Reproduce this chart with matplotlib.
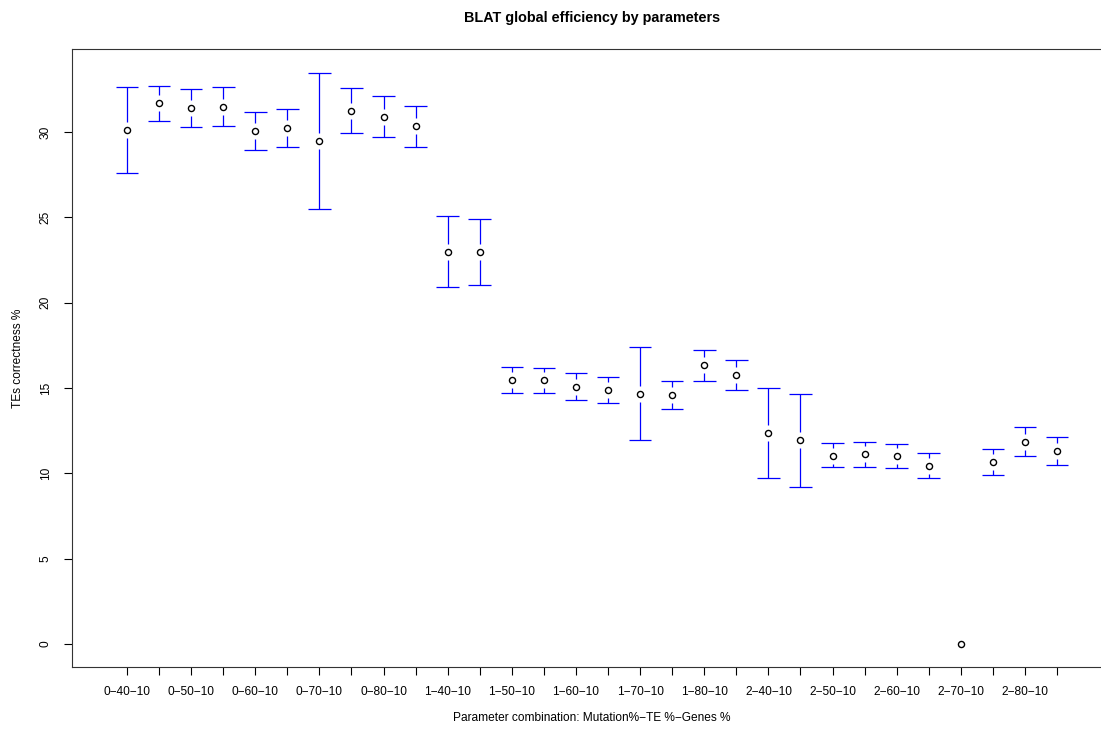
import matplotlib
matplotlib.use("Agg")
import matplotlib.pyplot as plt
import numpy as np

plt.rcParams['font.family'] = ['Liberation Sans', 'DejaVu Sans']

# ---- data ----
tick_labels = ["0-40-10", "0-50-10", "0-60-10", "0-70-10", "0-80-10",
               "1-40-10", "1-50-10", "1-60-10", "1-70-10", "1-80-10",
               "2-40-10", "2-50-10", "2-60-10", "2-70-10", "2-80-10"]

means = [30.10, 31.68, 31.39, 31.48, 30.06, 30.21, 29.47, 31.25, 30.90, 30.33,
         22.99, 22.99, 15.47, 15.45, 15.08, 14.88, 14.67, 14.59, 16.33, 15.78,
         12.38, 11.94, 11.03, 11.11, 11.02, 10.45, 0.00, 10.66, 11.85, 11.33]
upper = [32.62, 32.70, 32.50, 32.62, 31.17, 31.33, 33.48, 32.56, 32.13, 31.54,
         25.10, 24.90, 16.23, 16.19, 15.86, 15.66, 17.42, 15.39, 17.24, 16.66,
         15.02, 14.63, 11.76, 11.84, 11.74, 11.17, 0.00, 11.44, 12.71, 12.15]
lower = [27.62, 30.62, 30.27, 30.33, 28.96, 29.10, 25.47, 29.96, 29.69, 29.14,
         20.90, 21.03, 14.71, 14.69, 14.32, 14.10, 11.94, 13.75, 15.39, 14.88,
         9.75, 9.22, 10.35, 10.39, 10.29, 9.75, 0.00, 9.88, 11.00, 10.49]

title = "BLAT global efficiency by parameters"
xlabel = "Parameter combination: Mutation%-TE %-Genes %"
ylabel = "TEs correctness %"

# ---- figure ----
W, H, DPI = 1101, 729, 100
fig = plt.figure(figsize=(W / DPI, H / DPI), dpi=DPI)
ax_l, ax_r, ax_t, ax_b = 72, 1112, 49, 667
ax = fig.add_axes([ax_l / W, 1 - ax_b / H, (ax_r - ax_l) / W, (ax_b - ax_t) / H])

x = np.arange(1, len(means) + 1)
m = np.array(means)
hi = np.array(upper)
lo = np.array(lower)

xlim = (1 - 55 / 32.07, len(means) + 55 / 32.07)
ylim = (-1.35, 34.86)
ax.set_xlim(*xlim)
ax.set_ylim(*ylim)

px_per_unit_y = (ax_b - ax_t) / (ylim[1] - ylim[0])
px_per_unit_x = (ax_r - ax_l) / (xlim[1] - xlim[0])
gap = 8.0 / px_per_unit_y
half_cap = 11.3 / px_per_unit_x

blue = "#0000FF"
has_ci = (hi - lo) > 0
up_seg = has_ci & ((hi - m) > gap)
lo_seg = has_ci & ((m - lo) > gap)
ax.vlines(x[up_seg], (m + gap)[up_seg], hi[up_seg], colors=blue, lw=0.9)
ax.vlines(x[lo_seg], lo[lo_seg], (m - gap)[lo_seg], colors=blue, lw=0.9)
ax.hlines(hi[has_ci], x[has_ci] - half_cap, x[has_ci] + half_cap, colors=blue, lw=0.9)
ax.hlines(lo[has_ci], x[has_ci] - half_cap, x[has_ci] + half_cap, colors=blue, lw=0.9)

ax.plot(x, m, linestyle="none", marker="o", markersize=4.4,
        markerfacecolor="none", markeredgecolor="black", markeredgewidth=1.0)

# axes styling (R-like box)
for sp in ax.spines.values():
    sp.set_linewidth(0.8)
    sp.set_color("#333333")

ax.set_xticks(x)
ax.set_xticklabels([tick_labels[i // 2].replace("-", "\u2212") if i % 2 == 0 else ""
                    for i in range(len(x))], fontsize=8.6)
ax.set_yticks([0, 5, 10, 15, 20, 25, 30])
ax.set_yticklabels(["0", "5", "10", "15", "20", "25", "30"], fontsize=8.6,
                   rotation=90, va="center")
ax.tick_params(axis="x", length=5.5, width=0.8, pad=8)
ax.tick_params(axis="y", length=5.5, width=0.8, pad=9)

fig.text((ax_l + ax_r) / 2 / W, 1 - 18 / H, title, ha="center", va="center",
         fontsize=10.4, fontweight="bold")
fig.text((ax_l + ax_r) / 2 / W, 1 - 718 / H, xlabel.replace("-", "\u2212"),
         ha="center", va="center", fontsize=8.6)
fig.text(18 / W, 1 - (ax_t + ax_b) / 2 / H, ylabel, ha="center", va="center",
         rotation=90, fontsize=8.6)

fig.savefig("out.png", dpi=DPI)
